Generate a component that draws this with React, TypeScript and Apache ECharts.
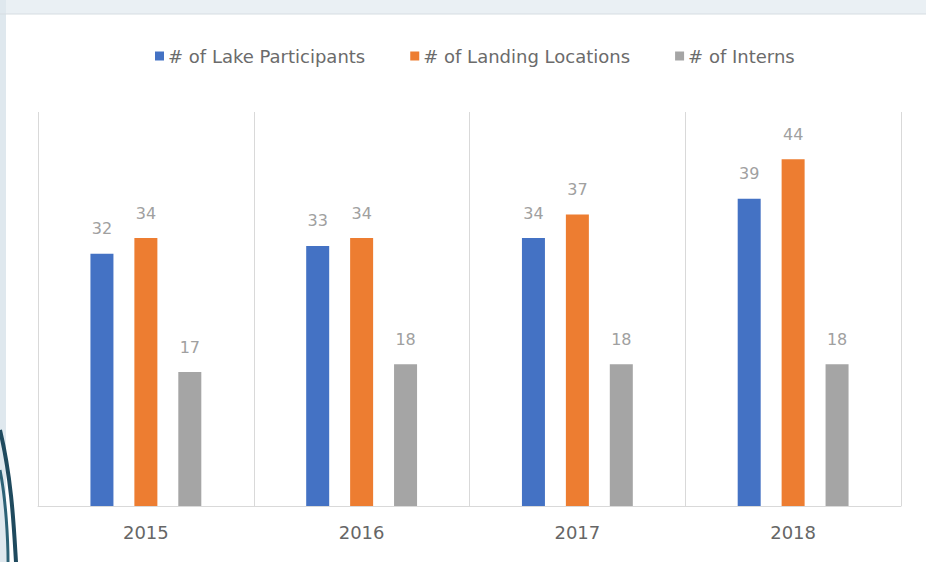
import React, { useEffect, useRef } from "react";
import * as echarts from "echarts";

const categories = ["2015", "2016", "2017", "2018"];
const seriesNames = ["# of Lake Participants", "# of Landing Locations", "# of Interns"];
const lakeParticipants = [32, 33, 34, 39];
const landingLocations = [34, 34, 37, 44];
const interns = [17, 18, 18, 18];
const colors = ["#4472C4", "#ED7D31", "#A5A5A5"];

export default function App() {
  const ref = useRef<HTMLDivElement>(null);
  useEffect(() => {
    if (!ref.current) return;
    const chart = echarts.init(ref.current, null, { renderer: "svg" });
    const values = [lakeParticipants, landingLocations, interns];
    chart.setOption({
      animation: false,
      backgroundColor: "#ffffff",
      graphic: [
        { type: "rect", shape: { x: 0, y: 0, width: 926, height: 14 }, style: { fill: "#eaf0f4" }, z: -10 },
        { type: "rect", shape: { x: 0, y: 0, width: 6, height: 562 }, style: { fill: "#dfe8ee" }, z: -10 },
        { type: "line", shape: { x1: 0, y1: 14, x2: 926, y2: 14 }, style: { stroke: "#d6dde2", lineWidth: 1 } },
        { type: "bezierCurve", shape: { x1: 0, y1: 430, x2: 16, y2: 562, cpx1: 12, cpy1: 480, cpx2: 14, cpy2: 530 }, style: { stroke: "#1f4a5e", lineWidth: 4, fill: "none" } },
        { type: "bezierCurve", shape: { x1: 0, y1: 470, x2: 8, y2: 562, cpx1: 6, cpy1: 500, cpx2: 8, cpy2: 540 }, style: { stroke: "#2d6276", lineWidth: 3, fill: "none" } },
      ],
      legend: {
        top: 42,
        left: 150,
        itemWidth: 9,
        itemHeight: 9,
        itemGap: 45,
        icon: "rect",
        textStyle: { color: "#6b6b6b", fontSize: 18, fontFamily: "DejaVu Sans", padding: [0, 0, 0, -1] },
        data: seriesNames,
      },
      grid: { left: 38, right: 25, top: 112, bottom: 56 },
      xAxis: {
        type: "category",
        data: categories,
        axisTick: { show: false },
        axisLine: { lineStyle: { color: "#d9d9d9", width: 1 } },
        splitLine: { show: true, lineStyle: { color: "#d9d9d9", width: 1 } },
        axisLabel: { color: "#666666", fontSize: 18, fontFamily: "DejaVu Sans", margin: 17 },
      },
      yAxis: {
        type: "value",
        min: 0,
        max: 50,
        show: false,
        splitLine: { show: false },
      },
      series: seriesNames.map((name, i) => ({
        name,
        type: "bar",
        data: values[i],
        barWidth: 23,
        barGap: "91%",
        itemStyle: { color: colors[i] },
        label: {
          show: true,
          position: "top",
          distance: 17,
          color: "#a0a0a0",
          fontSize: 16,
          fontFamily: "DejaVu Sans",
        },
      })),
    });
    return () => chart.dispose();
  }, []);
  return <div ref={ref} style={{ position: "fixed", left: 0, top: 0, width: 926, height: 562 }} />;
}
